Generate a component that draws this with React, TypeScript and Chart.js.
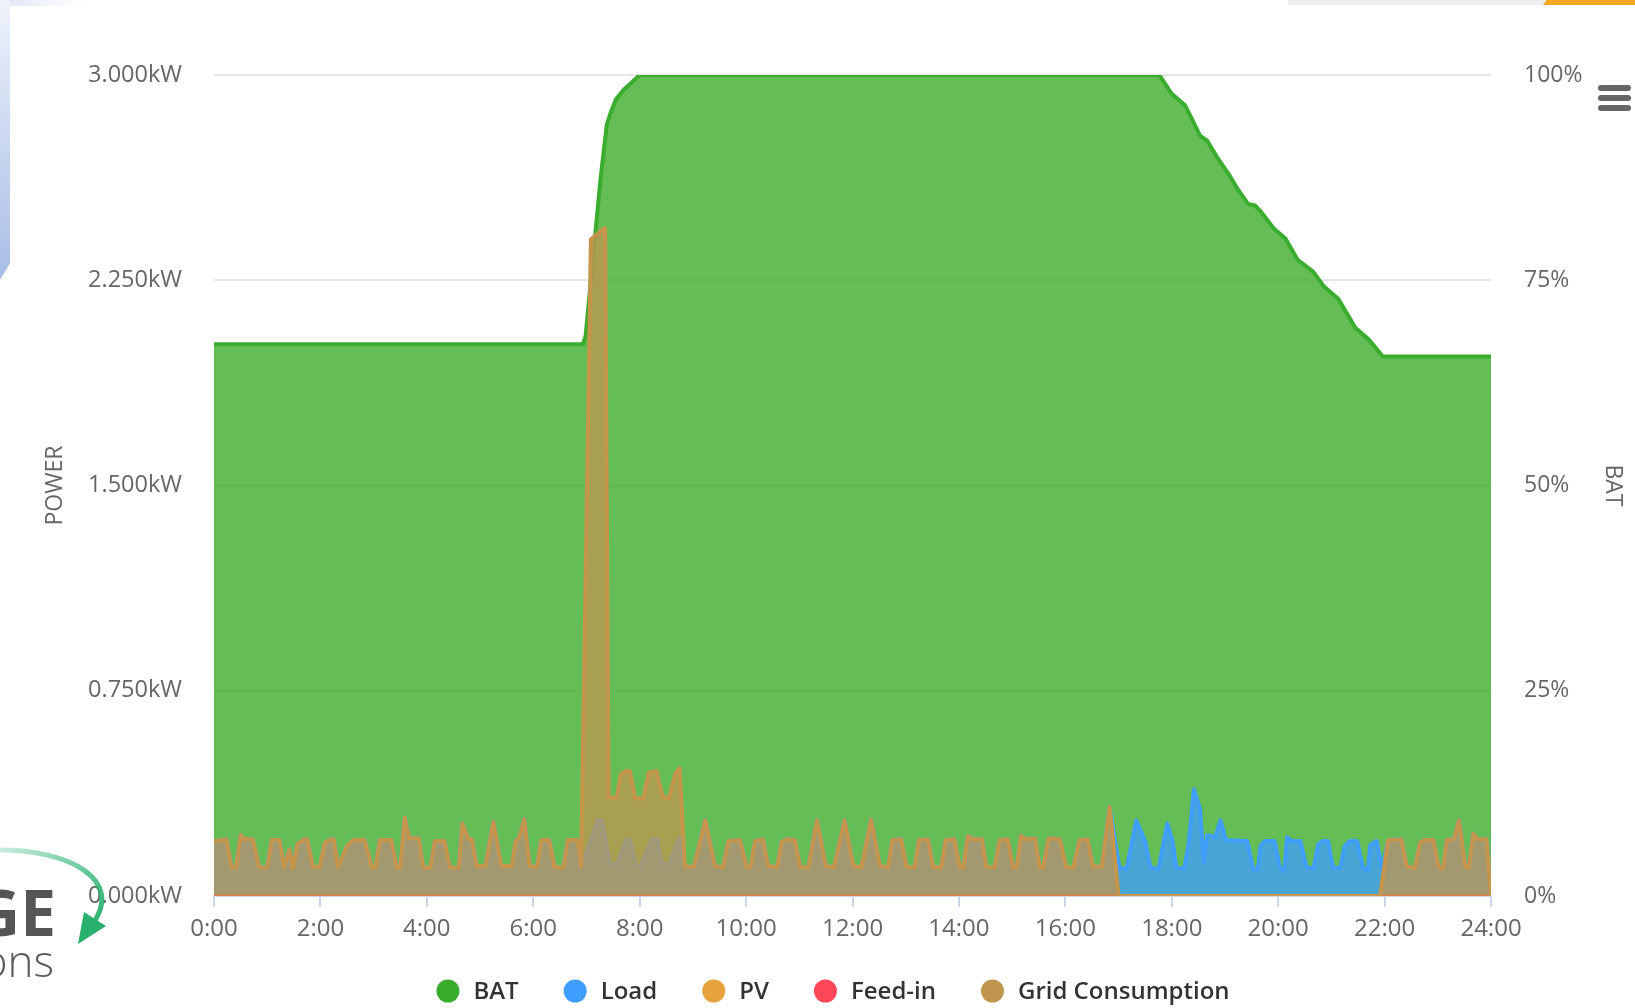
import React, { useEffect, useRef } from "react";
import { Chart, registerables } from "chart.js";

Chart.register(...registerables);

// ---------- labels ----------
const xTickLabels = ["0:00", "2:00", "4:00", "6:00", "8:00", "10:00", "12:00", "14:00", "16:00", "18:00", "20:00", "22:00", "24:00"];
const powerTickLabels = ["0.000kW", "0.750kW", "1.500kW", "2.250kW", "3.000kW"];
const batTickLabels = ["0%", "25%", "50%", "75%", "100%"];
const seriesNames = ["BAT", "Load", "PV", "Feed-in", "Grid Consumption"];
const seriesColors = ["#3AAD2E", "#409EFF", "#E6A23C", "#FF4757", "#C0964F"];

// ---------- data: [minute of day, value] ----------
// Battery state of charge (%)
const batPoints: [number, number][] = [
  [0, 67.2], [416, 67.2], [419, 68.2], [436, 87.5], [443, 94], [447, 95.3], [453, 97], [462, 98.2], [470, 99], [480, 100],
  [1066, 100], [1080, 97.7], [1095, 96.3], [1103, 94.6], [1112, 92.6], [1120, 92.0], [1131, 90.0], [1145, 87.8],
  [1155, 86.0], [1166, 84.3], [1174, 84.1], [1181, 83.3], [1195, 81.3], [1208, 80.1], [1222, 77.5], [1239, 76.1],
  [1252, 74.2], [1268, 72.7], [1287, 69.2], [1302, 67.8], [1318, 65.7], [1440, 65.7],
];

// Grid consumption (kW) – night part, load equals grid here
const gridNight: [number, number][] = [
  [0, 0.2], [14, 0.207], [20, 0.104], [25, 0.104], [30, 0.223], [35, 0.207], [44, 0.207], [51, 0.104], [60, 0.104],
  [65, 0.205], [74, 0.205], [79, 0.104], [85, 0.171], [89, 0.101], [94, 0.189], [101, 0.207], [105, 0.207], [112, 0.106],
  [119, 0.106], [125, 0.195], [131, 0.207], [135, 0.207], [140, 0.106], [150, 0.183], [157, 0.205], [170, 0.205],
  [178, 0.104], [182, 0.104], [187, 0.205], [200, 0.205], [206, 0.104], [210, 0.104], [215, 0.287], [220, 0.211],
  [231, 0.211], [236, 0.104], [244, 0.104], [249, 0.201], [260, 0.201], [266, 0.104], [276, 0.104], [280, 0.265],
  [287, 0.207], [291, 0.207], [296, 0.11], [306, 0.11], [315, 0.271], [324, 0.11], [336, 0.11], [340, 0.201],
  [344, 0.213], [350, 0.28], [356, 0.11], [364, 0.104], [369, 0.205], [378, 0.205], [384, 0.106], [394, 0.104],
  [399, 0.205], [410, 0.205], [414, 0.106],
];
// Grid consumption – morning battery charging
const gridMorning: [number, number][] = [
  [425, 2.40], [436, 2.43], [441, 2.44], [445, 0.36], [454, 0.36], [459, 0.445], [465, 0.457], [469, 0.457],
  [475, 0.356], [484, 0.356], [490, 0.45], [499, 0.457], [506, 0.362], [513, 0.357], [520, 0.445], [525, 0.467],
];
// Load during morning charging
const loadMorning: [number, number][] = [
  [420, 0.16], [433, 0.28], [438, 0.275], [446, 0.122], [454, 0.116], [465, 0.207], [469, 0.207], [476, 0.11],
  [481, 0.11], [494, 0.207], [500, 0.207], [505, 0.116], [513, 0.116], [525, 0.213],
];
// Grid consumption – day part, load equals grid here
const gridDay: [number, number][] = [
  [531, 0.11], [541, 0.106], [554, 0.277], [565, 0.11], [574, 0.104], [580, 0.201], [593, 0.205], [601, 0.104],
  [605, 0.104], [610, 0.201], [619, 0.207], [625, 0.11], [635, 0.104], [640, 0.198], [646, 0.207], [655, 0.205],
  [661, 0.106], [670, 0.104], [680, 0.277], [690, 0.11], [699, 0.104], [711, 0.277], [721, 0.11], [730, 0.104],
  [741, 0.28], [751, 0.11], [760, 0.104], [765, 0.205], [775, 0.207], [781, 0.106], [790, 0.104], [795, 0.205],
  [805, 0.207], [811, 0.106], [820, 0.104], [825, 0.205], [835, 0.207], [841, 0.106], [845, 0.106], [850, 0.22],
  [856, 0.207], [866, 0.207], [871, 0.106], [880, 0.104], [886, 0.205], [895, 0.207], [901, 0.106], [905, 0.104],
  [910, 0.22], [916, 0.207], [926, 0.21], [931, 0.106], [935, 0.104], [941, 0.211], [954, 0.207], [961, 0.106],
  [969, 0.104], [976, 0.205], [985, 0.207], [991, 0.11], [1001, 0.106], [1010, 0.326],
];
// Grid consumption – evening (battery covers load)
const gridEvening: [number, number][] = [[1020, 0], [1315, 0]];
// Load – evening
const loadEvening: [number, number][] = [
  [1016, 0.2], [1021, 0.104], [1029, 0.098], [1040, 0.276], [1050, 0.2], [1056, 0.104], [1065, 0.098], [1075, 0.265],
  [1081, 0.2], [1085, 0.104], [1094, 0.1], [1099, 0.19], [1105, 0.39], [1112, 0.317], [1116, 0.122], [1120, 0.223],
  [1129, 0.215], [1135, 0.277], [1141, 0.205], [1165, 0.201], [1172, 0.098], [1177, 0.098], [1180, 0.183],
  [1185, 0.201], [1196, 0.201], [1202, 0.104], [1207, 0.092], [1210, 0.216], [1215, 0.201], [1225, 0.201],
  [1232, 0.104], [1240, 0.101], [1245, 0.189], [1251, 0.201], [1256, 0.201], [1262, 0.104], [1270, 0.101],
  [1275, 0.183], [1281, 0.201], [1289, 0.201], [1296, 0.101], [1301, 0.094], [1304, 0.187], [1311, 0.201], [1317, 0.098],
];
// Grid consumption – late night, load equals grid here
const gridLate: [number, number][] = [
  [1324, 0.205], [1339, 0.207], [1345, 0.11], [1354, 0.101], [1360, 0.195], [1366, 0.205], [1375, 0.205],
  [1381, 0.106], [1386, 0.101], [1390, 0.205], [1398, 0.207], [1404, 0.277], [1411, 0.11], [1415, 0.104],
  [1420, 0.228], [1425, 0.207], [1435, 0.207], [1440, 0],
];
const pvPoints: [number, number][] = [[0, 0], [1440, 0]];
const feedInPoints: [number, number][] = [[0, 0], [1440, 0]];

const gridPoints = [...gridNight, ...gridMorning, ...gridDay, ...gridEvening, ...gridLate];
const loadPoints = [...gridNight, ...loadMorning, ...gridDay, ...loadEvening, ...gridLate];

const toXY = (pts: [number, number][]) => pts.map(([x, y]) => ({ x, y }));

const FONT = "'Open Sans', 'Noto Sans', sans-serif";

const decorPlugin = {
  id: "decor",
  afterDraw(chart: any) {
    const ctx: CanvasRenderingContext2D = chart.ctx;
    const area = chart.chartArea;
    const midY = (area.top + area.bottom) / 2;
    ctx.save();
    // axis titles
    ctx.fillStyle = "#666666";
    ctx.font = `23px ${FONT}`;
    ctx.textAlign = "center";
    ctx.textBaseline = "middle";
    ctx.save();
    ctx.translate(55, midY);
    ctx.rotate(-Math.PI / 2);
    ctx.fillText("POWER", 0, 0);
    ctx.restore();
    ctx.save();
    ctx.translate(1613, midY);
    ctx.rotate(Math.PI / 2);
    ctx.fillText("BAT", 0, 0);
    ctx.restore();

    // hamburger menu
    ctx.fillStyle = "#666666";
    [88, 98, 108].forEach((y) => {
      ctx.beginPath();
      ctx.roundRect(1598, y - 3, 33, 6, 3);
      ctx.fill();
    });

    // legend
    ctx.font = `600 24px ${FONT}`;
    ctx.textBaseline = "middle";
    ctx.textAlign = "left";
    const r = 11.5;
    const symGap = 14;
    const itemGap = 45;
    const widths = seriesNames.map((n) => ctx.measureText(n).width);
    const total = widths.reduce((s, w) => s + 2 * r + symGap + w, 0) + itemGap * (seriesNames.length - 1);
    let x = 833 - total / 2;
    const ly = 991;
    seriesNames.forEach((n, i) => {
      ctx.fillStyle = seriesColors[i];
      ctx.beginPath();
      ctx.arc(x + r, ly, r, 0, Math.PI * 2);
      ctx.fill();
      ctx.fillStyle = "#333333";
      ctx.fillText(n, x + 2 * r + symGap, ly + 1);
      x += 2 * r + symGap + widths[i] + itemGap;
    });

    // partial logo at bottom-left
    ctx.fillStyle = "#555555";
    ctx.textAlign = "right";
    ctx.textBaseline = "alphabetic";
    ctx.font = `bold 64px ${FONT}`;
    ctx.fillText("GE", 56, 936);
    ctx.font = `300 44px ${FONT}`;
    ctx.fillStyle = "#5a5a5a";
    ctx.fillText("ons", 54, 977);
    const grad = ctx.createLinearGradient(0, 850, 100, 930);
    grad.addColorStop(0, "rgba(46,180,120,0.25)");
    grad.addColorStop(1, "rgba(40,176,110,1)");
    ctx.strokeStyle = grad;
    ctx.lineWidth = 5;
    ctx.beginPath();
    ctx.moveTo(0, 850);
    ctx.bezierCurveTo(70, 850, 125, 880, 92, 925);
    ctx.stroke();
    ctx.fillStyle = "rgba(40,176,110,1)";
    ctx.beginPath();
    ctx.moveTo(78, 944);
    ctx.lineTo(84, 912);
    ctx.lineTo(106, 926);
    ctx.closePath();
    ctx.fill();
    ctx.restore();
  },
};

export default function App() {
  const canvasRef = useRef<HTMLCanvasElement | null>(null);

  useEffect(() => {
    if (!canvasRef.current) return;
    const fills = [
      "rgba(48,168,28,0.75)",
      "rgba(64,158,255,0.75)",
      "rgba(230,162,60,0.75)",
      "rgba(255,71,87,0.75)",
      "rgba(192,150,79,0.75)",
    ];
    const seriesData = [batPoints, loadPoints, pvPoints, feedInPoints, gridPoints];
    const chart = new Chart(canvasRef.current, {
      type: "line",
      data: {
        datasets: seriesNames.map((name, i) => ({
          label: name,
          data: toXY(seriesData[i]),
          borderColor: i === 4 ? "#C6954C" : seriesColors[i],
          backgroundColor: fills[i],
          borderWidth: 4,
          pointRadius: 0,
          tension: 0,
          fill: "origin",
          yAxisID: i === 0 ? "y1" : "y",
          order: 5 - i,
          borderJoinStyle: "round" as const,
        })),
      },
      options: {
        animation: false,
        responsive: false,
        maintainAspectRatio: false,
        layout: { padding: { top: 75, left: 0, right: 0, bottom: 0 } },
        plugins: { legend: { display: false }, tooltip: { enabled: false } },
        scales: {
          x: {
            type: "linear",
            min: 0,
            max: 1440,
            afterFit: (s: any) => { s.height = 112; },
            afterBuildTicks: (s: any) => {
              s.ticks = xTickLabels.map((_, i) => ({ value: i * 120 }));
            },
            ticks: {
              autoSkip: false,
              maxRotation: 0,
              padding: 8,
              color: "#666666",
              font: { family: FONT, size: 24 },
              callback: (_v: any, i: number) => xTickLabels[i],
            },
            grid: {
              display: true,
              drawOnChartArea: false,
              drawTicks: true,
              tickLength: 11,
              color: "#ccd6eb",
              lineWidth: 2,
            },
            border: { display: true, color: "#ccd6eb", width: 2 },
          },
          y: {
            position: "left",
            min: 0,
            max: 3,
            afterFit: (s: any) => { s.width = 214; },
            afterBuildTicks: (s: any) => {
              s.ticks = powerTickLabels.map((_, i) => ({ value: i * 0.75 }));
            },
            ticks: {
              padding: 32,
              color: "#666666",
              font: { family: FONT, size: 23.5 },
              callback: (_v: any, i: number) => powerTickLabels[i],
            },
            grid: { color: "#e6e6e6", lineWidth: 2, drawTicks: false },
            border: { display: false },
          },
          y1: {
            position: "right",
            min: 0,
            max: 100,
            afterFit: (s: any) => { s.width = 144; },
            afterBuildTicks: (s: any) => {
              s.ticks = batTickLabels.map((_, i) => ({ value: i * 25 }));
            },
            ticks: {
              padding: 33,
              color: "#666666",
              font: { family: FONT, size: 23 },
              callback: (_v: any, i: number) => batTickLabels[i],
            },
            grid: { drawOnChartArea: false, drawTicks: false },
            border: { display: false },
          },
        },
      },
      plugins: [decorPlugin],
    } as any);
    return () => chart.destroy();
  }, []);

  return (
    <div style={{ position: "fixed", left: 0, top: 0, width: 1635, height: 1008, background: "#ffffff", overflow: "hidden" }}>
      <div style={{ position: "absolute", left: 0, top: 0, width: 84, height: 6, background: "linear-gradient(90deg, #dfe6f6, #ffffff)" }} />
      <div style={{ position: "absolute", left: 0, top: 0, width: 10, height: 280, background: "linear-gradient(180deg, #eef2fb, #a8bde6)", clipPath: "polygon(0 0, 100% 0, 100% 94%, 0 100%)" }} />
      <div style={{ position: "absolute", left: 1288, top: 0, width: 260, height: 5, background: "#eeeeee" }} />
      <div style={{ position: "absolute", left: 1543, top: 0, width: 92, height: 5, background: "#f5a623", clipPath: "polygon(4% 0, 100% 0, 100% 100%, 0 100%)" }} />
      <canvas ref={canvasRef} width={1635} height={1008} style={{ position: "absolute", left: 0, top: 0, width: 1635, height: 1008 }} />
    </div>
  );
}
